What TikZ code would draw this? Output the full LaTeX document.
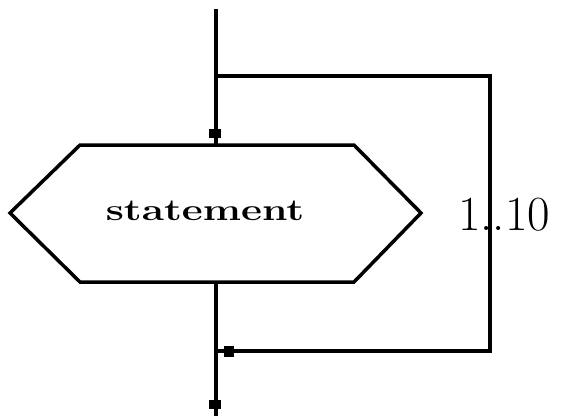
\documentclass[tikz,border=0pt]{standalone}
\usepackage{graphicx}
\begin{document}
\begin{tikzpicture}[x=1pt,y=-1pt,
  conn/.style={line width=4pt},
  hexline/.style={line width=3.5pt,line join=miter},
  markbox/.style={fill=black,inner sep=0pt,minimum width=12pt,minimum height=9pt},
  markboxh/.style={fill=black,inner sep=0pt,minimum width=10pt,minimum height=11pt}]
\useasboundingbox (0,0) rectangle (562,416);
% hexagon
\coordinate (tl) at (80,145);
\coordinate (tr) at (354,145);
\coordinate (rp) at (421,213);
\coordinate (br) at (354,282);
\coordinate (bl) at (80,282);
\coordinate (lp) at (10,213);
\draw[hexline] (tl) -- (tr) -- (rp) -- (br) -- (bl) -- (lp) -- cycle;
\coordinate (top) at (216,145);
\coordinate (bot) at (216,282);
\node[anchor=base,inner sep=0pt] (stmt) at (205,220)
  {\scalebox{1.36}[1.02]{\fontsize{30}{30}\selectfont\bfseries statement}};
% loop
\coordinate (start) at (216,9);
\coordinate (split) at (216,76);
\coordinate (corner1) at (490,76);
\coordinate (corner2) at (490,351);
\coordinate (join) at (216,351);
\coordinate (end) at (216,416);
\draw[conn] (start) -- (top);
\draw[conn] (split) -- (corner1) -- (corner2) -- (join);
\draw[conn] (bot) -- (end);
% markers
\node[markbox] (m1) at (215,133) {};
\node[markboxh] (m2) at (229,351) {};
\node[markbox] (m3) at (215,404) {};
% label
\node[anchor=base,inner sep=0pt] (lbl) at (504,230) {\fontsize{49}{49}\selectfont 1..10};
\end{tikzpicture}
\end{document}
